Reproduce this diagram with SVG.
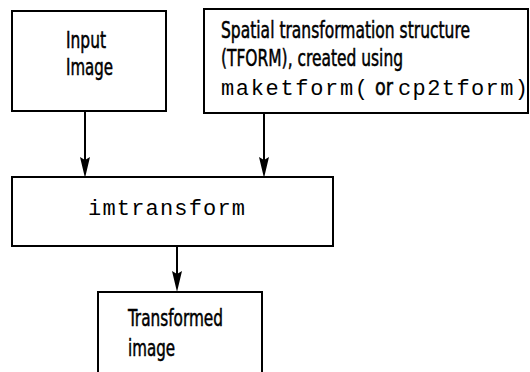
<svg xmlns="http://www.w3.org/2000/svg" width="530" height="372" viewBox="0 0 530 372">
<style>
.box{fill:#fff;stroke:#000;stroke-width:2}
.lbl{font-family:"Liberation Sans Narrow","DejaVu Sans Condensed","Liberation Sans",sans-serif;font-size:23px;fill:#000;stroke:#000;stroke-width:0.5}
.mono{font-family:"Liberation Mono","DejaVu Sans Mono",monospace;font-size:22px;fill:#000}
.conn{stroke:#000;stroke-width:2;fill:none}
.head{fill:#000}
</style>
<rect width="530" height="372" fill="#fff"/>
<g id="connectors">
<line class="conn" x1="85" y1="111" x2="85" y2="170"/>
<path class="head" d="M80,157 L85,160 L90,157 L85,178 Z"/>
<line class="conn" x1="264" y1="113" x2="264" y2="170"/>
<path class="head" d="M259,157 L264,160 L269,157 L264,178 Z"/>
<line class="conn" x1="177" y1="246" x2="177" y2="284"/>
<path class="head" d="M172,271 L177,274 L182,271 L177,292 Z"/>
</g>
<g id="input">
<rect class="box" x="12" y="11" width="154" height="100"/>
<text class="lbl" x="66" y="48" textLength="40" lengthAdjust="spacingAndGlyphs">Input</text>
<text class="lbl" x="66" y="75" textLength="47" lengthAdjust="spacingAndGlyphs">Image</text>
</g>
<g id="tform">
<rect class="box" x="204" y="9" width="324" height="104"/>
<text class="lbl" x="221" y="38" textLength="249" lengthAdjust="spacingAndGlyphs">Spatial transformation structure</text>
<text class="lbl" x="221" y="66" textLength="182" lengthAdjust="spacingAndGlyphs">(TFORM), created using</text>
<text class="mono" x="221" y="95" textLength="147" lengthAdjust="spacing">maketform(</text>
<text class="lbl" x="375" y="95" textLength="18" lengthAdjust="spacingAndGlyphs">or</text>
<text class="mono" x="398" y="95" textLength="130" lengthAdjust="spacing">cp2tform)</text>
</g>
<g id="imtransform">
<rect class="box" x="12" y="177" width="321" height="69"/>
<text class="mono" x="88" y="215" textLength="157" lengthAdjust="spacing">imtransform</text>
</g>
<g id="output">
<rect class="box" x="98" y="292" width="164" height="90"/>
<text class="lbl" x="128" y="326" textLength="95" lengthAdjust="spacingAndGlyphs">Transformed</text>
<text class="lbl" x="128" y="356" textLength="47" lengthAdjust="spacingAndGlyphs">image</text>
</g>
</svg>
